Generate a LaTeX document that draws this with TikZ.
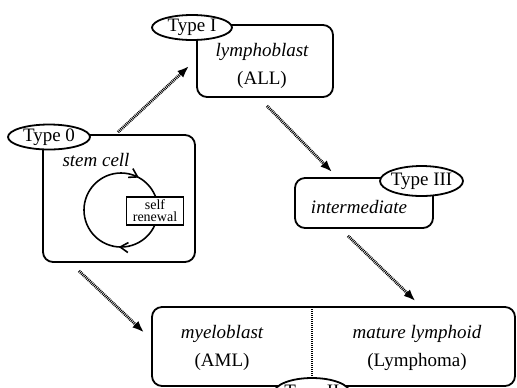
\documentclass[tikz,border=0pt]{standalone}
\usepackage{fontspec}
\setmainfont{Liberation Serif}
\usetikzlibrary{arrows.meta,decorations.markings,shapes.geometric}

\begin{document}
\begin{tikzpicture}[x=0.5pt,y=-0.5pt,
  every node/.style={font=\fontsize{9.5}{11}\selectfont},
  cellbox/.style={draw,line width=0.9pt,rounded corners=5pt,inner sep=0pt},
  typetag/.style={draw,ellipse,line width=0.9pt,fill=white,inner sep=-1.5pt},
  leads/.style={-{Latex[length=6pt,width=4.5pt]},line width=1.5pt,dash pattern=on 0.45pt off 0.45pt}]
  \clip (0,0) rectangle (517,387);

  % the cells
  \node[cellbox,minimum width=76pt,minimum height=63.5pt] (stem) at (119,198.5) {};
  \node (stemtxt) at (96,160) {\itshape stem cell};
  \node[cellbox,minimum width=68pt,minimum height=36pt] (lympho) at (265,61) {};
  \node[align=center] (lymphotxt) at (262,66) {\itshape lymphoblast\\[3pt](ALL)};
  \node[cellbox,minimum width=69pt,minimum height=25pt] (inter) at (364,203) {};
  \node (intertxt) at (359,207) {\itshape intermediate};
  \node[cellbox,minimum width=181.5pt,minimum height=39.5pt] (mature) at (333.5,346.5) {};
  \node[align=center] (myelotxt) at (222,348) {\itshape myeloblast\\[3pt](AML)};
  \node[align=center] (maturetxt) at (417,348) {\itshape mature lymphoid\\[3pt](Lymphoma)};
  \coordinate (divtop) at (312,307);
  \coordinate (divbot) at (312,386);
  \draw[line width=0.8pt,dash pattern=on 0.5pt off 0.5pt] (divtop) -- (divbot);

  % self renewal loop
  \coordinate (loopc) at (121,210);
  \draw[line width=0.8pt,postaction=decorate,decoration={markings,
      mark=at position 0.26 with {\arrow{Straight Barb[length=4pt,width=5pt]}},
      mark=at position 0.83 with {\arrow{Straight Barb[length=4pt,width=5pt]}}}]
    (loopc) circle (37);
  \node[draw,line width=0.8pt,fill=white,minimum width=28.5pt,minimum height=14pt,
    inner sep=0pt,align=center,font=\fontsize{7}{6}\selectfont] (renew) at (155,211) {self\\renewal};

  % type tags
  \node[typetag,minimum width=41pt,minimum height=12.5pt] (t0) at (49,137) {Type 0};
  \node[typetag,minimum width=40pt,minimum height=12.5pt] (t1) at (192,27.5) {Type I};
  \node[typetag,minimum width=41.5pt,minimum height=15pt] (t3) at (421.5,181) {Type III};
  \node[typetag,minimum width=38pt,minimum height=15pt] (t2) at (312,393) {Type II};

  % progression
  \draw[leads] ([xshift=-0.5pt,yshift=1pt]stem.north) -- ([xshift=-3.5pt,yshift=-2.5pt]lympho.west);
  \draw[leads] ([xshift=1pt,yshift=-4pt]lympho.south) -- ([xshift=19pt,yshift=2.5pt]inter.north west);
  \draw[leads] ([xshift=-8pt,yshift=-3.5pt]inter.south) -- ([xshift=41pt,yshift=2.5pt]mature.north);
  \draw[leads] ([xshift=-20pt,yshift=-4pt]stem.south) -- ([xshift=-3.5pt,yshift=7pt]mature.west);
\end{tikzpicture}
\end{document}
